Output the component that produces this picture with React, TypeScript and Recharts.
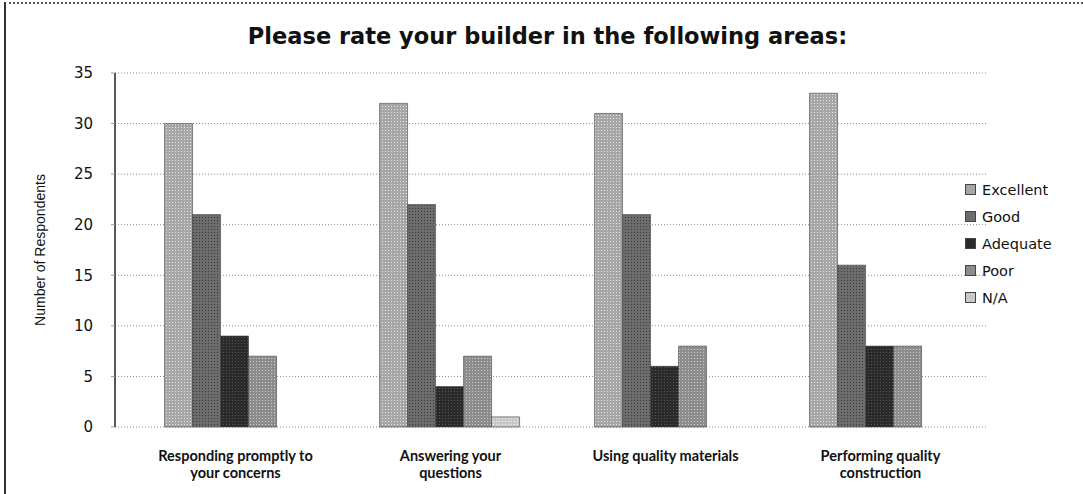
import React from 'react';
import { BarChart, Bar, XAxis, YAxis, CartesianGrid } from 'recharts';

const categories = [
    'Responding promptly to\nyour concerns',
    'Answering your\nquestions',
    'Using quality materials',
    'Performing quality\nconstruction',
];
const excellent = [30, 32, 31, 33];
const good = [21, 22, 21, 16];
const adequate = [9, 4, 6, 8];
const poor = [7, 7, 8, 8];
const notApplicable = [0, 1, 0, 0];
const yTicks = [0, 5, 10, 15, 20, 25, 30, 35];

const seriesNames = ['Excellent', 'Good', 'Adequate', 'Poor', 'N/A'];
const seriesKeys = ['excellent', 'good', 'adequate', 'poor', 'na'];
const seriesColors = ['#a6a6a6', '#6c6c6c', '#2a2a2a', '#8c8c8c', '#c8c8c8'];
const dotColors = ['#e8e8e8', '#3a3a3a', '#555555', '#cfcfcf', '#f4f4f4'];

const data = categories.map((name, i) => ({
    name,
    excellent: excellent[i],
    good: good[i],
    adequate: adequate[i],
    poor: poor[i],
    na: notApplicable[i],
}));

const FONT = '"DejaVu Sans", Verdana, sans-serif';

// two-line category labels, like the original
const CategoryTick = (props: any) => {
    const { x, y, payload } = props;
    const lines = String(payload.value).split('\n');
    return (
        <text x={x} y={y + 26} textAnchor="middle" fill="#111" fontFamily="Lato, sans-serif" fontWeight="bold" fontSize={14.5}>
            {lines.map((l, i) => (
                <tspan key={i} x={x} dy={i === 0 ? 0 : 17}>
                    {l}
                </tspan>
            ))}
        </text>
    );
};

const App: React.FC = () => {
    return (
        <div style={{ position: 'absolute', left: 0, top: 0, width: 1083, height: 494, background: '#fff' }}>
            {/* scan border, top and left */}
            <div style={{ position: 'absolute', left: 4, top: 2, width: 1079, height: 0, borderTop: '2px dotted #555' }} />
            <div style={{ position: 'absolute', left: 4, top: 2, width: 0, height: 492, borderLeft: '2px solid #333' }} />

            <div
                style={{
                    position: 'absolute',
                    left: 6,
                    top: 23,
                    width: 1083,
                    textAlign: 'center',
                    fontFamily: FONT,
                    fontWeight: 'bold',
                    fontSize: 22.5,
                    color: '#111',
                }}
            >
                Please rate your builder in the following areas:
            </div>

            <BarChart
                width={1083}
                height={494}
                data={data}
                margin={{ top: 73, right: 95, bottom: 0, left: 0 }}
                barCategoryGap="17%"
                barGap={0}
            >
                <defs>
                    {seriesKeys.map((k, i) => (
                        <pattern key={k} id={`ht-${k}`} width={3} height={3} patternUnits="userSpaceOnUse">
                            <rect width={3} height={3} fill={seriesColors[i]} />
                            <rect x={1} y={1} width={1} height={1} fill={dotColors[i]} />
                        </pattern>
                    ))}
                </defs>
                <CartesianGrid vertical={false} stroke="#888" strokeDasharray="1 2" />
                <XAxis
                    dataKey="name"
                    height={67}
                    axisLine={false}
                    tickLine={false}
                    interval={0}
                    padding={{ left: 13, right: 0 }}
                    tick={<CategoryTick />}
                />
                <YAxis
                    width={115}
                    domain={[0, 35]}
                    ticks={yTicks}
                    interval={0}
                    axisLine={{ stroke: '#222', strokeWidth: 1.5 }}
                    tickLine={{ stroke: '#999' }}
                    tickSize={4}
                    tickMargin={18}
                    tick={{ fill: '#111', fontFamily: FONT, fontSize: 15 }}
                    label={{
                        value: 'Number of Respondents',
                        angle: -90,
                        position: 'insideLeft',
                        offset: 40,
                        style: {
                            textAnchor: 'middle',
                            fill: '#111',
                            fontFamily: '"Liberation Sans Narrow", "Liberation Sans", Arial, sans-serif',
                            fontSize: 14,
                        },
                    }}
                />
                {seriesKeys.map((k, i) => (
                    <Bar key={k} dataKey={k} name={seriesNames[i]} fill={`url(#ht-${k})`} stroke="#444" strokeWidth={0.6} isAnimationActive={false} />
                ))}
            </BarChart>

            {/* legend */}
            <div style={{ position: 'absolute', left: 965, top: 176, fontFamily: FONT, fontSize: 14.5, color: '#111' }}>
                {seriesNames.map((n, i) => (
                    <div key={n} style={{ display: 'flex', alignItems: 'center', height: 27 }}>
                        <span
                            style={{
                                display: 'inline-block',
                                width: 9,
                                height: 9,
                                background: seriesColors[i],
                                border: '1px solid #444',
                                marginRight: 6,
                            }}
                        />
                        {n}
                    </div>
                ))}
            </div>
        </div>
    );
};

export default App;
